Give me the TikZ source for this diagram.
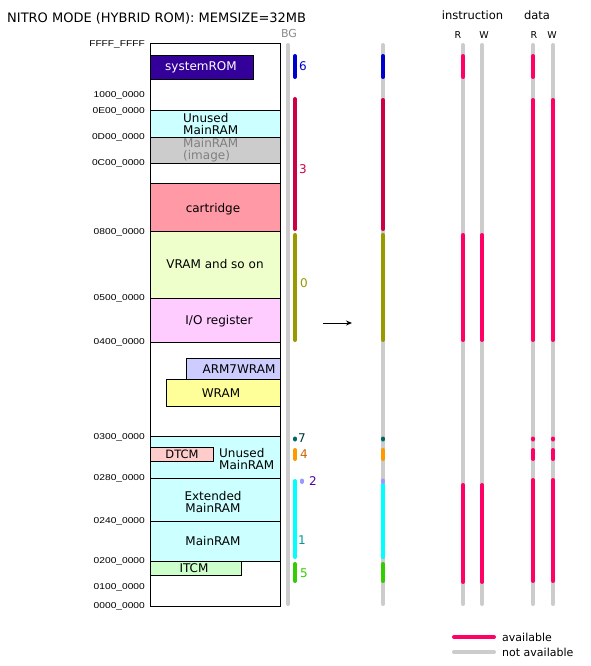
\documentclass[tikz,border=0pt]{standalone}
\usepackage{fontspec}
\setmainfont{DejaVu Sans}
\newfontfamily\addrfont[FakeStretch=1.2]{Liberation Sans}
\usetikzlibrary{arrows.meta}

\definecolor{romfill}{HTML}{330099}
\definecolor{unusedfill}{HTML}{CCFFFF}
\definecolor{imagefill}{HTML}{CCCCCC}
\definecolor{cartfill}{HTML}{FF99A6}
\definecolor{vramfill}{HTML}{EEFFCC}
\definecolor{iofill}{HTML}{FFCCFF}
\definecolor{armfill}{HTML}{CCCCFF}
\definecolor{wramfill}{HTML}{FFFF99}
\definecolor{dtcmfill}{HTML}{FFCCCC}
\definecolor{itcmfill}{HTML}{CCFFCC}
\definecolor{navail}{HTML}{CCCCCC}
\definecolor{avail}{HTML}{FF0066}
\definecolor{bgsix}{HTML}{0000CC}
\definecolor{bgthree}{HTML}{CC0044}
\definecolor{bgzero}{HTML}{999900}
\definecolor{bgseven}{HTML}{006666}
\definecolor{bgfour}{HTML}{FF9900}
\definecolor{bgtwo}{HTML}{9999FF}
\definecolor{bgone}{HTML}{00FFFF}
\definecolor{bgfive}{HTML}{33CC00}

\tikzset{
  area/.style={draw=black, line width=0.9pt, inner sep=0pt, outer sep=0pt, anchor=north west},
  lbl/.style={inner sep=0pt, font=\fontsize{12}{12.5}\selectfont, align=center},
  addr/.style={inner sep=0pt, anchor=east, font=\addrfont\fontsize{8.5}{9}\selectfont},
  head/.style={inner sep=0pt, font=\fontsize{11}{11}\selectfont},
  rw/.style={inner sep=0pt, font=\fontsize{9.5}{10}\selectfont},
  bar/.style={line width=4pt, line cap=round},
  num/.style={inner sep=0pt, font=\fontsize{12}{12}\selectfont},
}

\begin{document}
\begin{tikzpicture}[x=1pt,y=-1pt]
\useasboundingbox[fill=white] (0,0) rectangle (591,666);

% title
\node[inner sep=0pt, anchor=west, font=\fontsize{13}{13}\selectfont] (title) at (7,18) {NITRO MODE (HYBRID ROM): MEMSIZE=32MB};

% memory regions
\node[area, fill=romfill, minimum width=103pt, minimum height=24pt] (sysrom) at (150,55) {};
\node[area, fill=unusedfill, minimum width=130pt, minimum height=27pt] (unusedhi) at (150,110) {};
\node[area, fill=imagefill, minimum width=130pt, minimum height=26pt] (image) at (150,137) {};
\node[area, fill=cartfill, minimum width=130pt, minimum height=48pt] (cart) at (150,183) {};
\node[area, fill=vramfill, minimum width=130pt, minimum height=67pt] (vram) at (150,231) {};
\node[area, fill=iofill, minimum width=130pt, minimum height=44pt] (io) at (150,298) {};
\node[area, fill=armfill, minimum width=94pt, minimum height=21pt] (arm7) at (186,358) {};
\node[area, fill=wramfill, minimum width=114pt, minimum height=27pt] (wram) at (166,379) {};
\node[area, fill=unusedfill, minimum width=130pt, minimum height=42pt] (unusedlo) at (150,436) {};
\node[area, fill=dtcmfill, minimum width=63pt, minimum height=14pt] (dtcm) at (150,447) {};
\node[area, fill=unusedfill, minimum width=130pt, minimum height=43pt] (ext) at (150,478) {};
\node[area, fill=unusedfill, minimum width=130pt, minimum height=40pt] (main) at (150,521) {};
\node[area, fill=itcmfill, minimum width=91pt, minimum height=14pt] (itcm) at (150,561) {};
\node[area, minimum width=130pt, minimum height=563pt] (frame) at (150,43) {};

% region texts
\node[lbl, text=white] (tsysrom) at (201,67) {systemROM};
\node[lbl, anchor=west, align=left] (tunusedhi) at (183,124) {Unused\\MainRAM};
\node[lbl, anchor=west, align=left, text=black!50] (timage) at (183,150) {MainRAM\\(image)};
\node[lbl] (tcart) at (213,209) {cartridge};
\node[lbl] (tvram) at (215,264) {VRAM and so on};
\node[lbl] (tio) at (219,321) {I/O register};
\node[lbl] (tarm7) at (239,369) {ARM7WRAM};
\node[lbl] (twram) at (221,393) {WRAM};
\node[lbl, font=\fontsize{11.5}{11.5}\selectfont] (tdtcm) at (182,454) {DTCM};
\node[lbl, anchor=west, align=left] (tunusedlo) at (219,459) {Unused\\MainRAM};
\node[lbl] (text) at (213,502) {Extended\\MainRAM};
\node[lbl] (tmain) at (213,541) {MainRAM};
\node[lbl] (titcm) at (194,568) {ITCM};

% addresses
\node[addr] (aFFFF) at (145,44) {FFFF\_FFFF};
\node[addr] (a1000) at (145,95) {1000\_0000};
\node[addr] (a0E00) at (145,111) {0E00\_0000};
\node[addr] (a0D00) at (145,137) {0D00\_0000};
\node[addr] (a0C00) at (145,163) {0C00\_0000};
\node[addr] (a0800) at (145,232) {0800\_0000};
\node[addr] (a0500) at (145,298) {0500\_0000};
\node[addr] (a0400) at (145,342) {0400\_0000};
\node[addr] (a0300) at (145,437) {0300\_0000};
\node[addr] (a0280) at (145,478) {0280\_0000};
\node[addr] (a0240) at (145,521) {0240\_0000};
\node[addr] (a0200) at (145,561) {0200\_0000};
\node[addr] (a0100) at (145,587) {0100\_0000};
\node[addr] (a0000) at (145,606) {0000\_0000};

% BG column
\node[head, text=black!45] (tbg) at (289,33) {BG};
\draw[bar, navail] (288,45) -- (288,604);
\draw[bar, bgsix] (295,56) -- (295,77);
\draw[bar, bgthree] (295,99) -- (295,229);
\draw[bar, bgzero] (295,235) -- (295,340);
\draw[bar, bgseven] (295,438.5) -- (295,439.5);
\draw[bar, bgfour] (295,450) -- (295,459);
\draw[bar, bgtwo] (302,480.5) -- (302,482);
\draw[bar, bgone] (295,481) -- (295,557);
\draw[bar, bgfive] (295,564) -- (295,581);

\node[num, text=bgsix] (n6) at (303,66) {6};
\node[num, text=bgthree] (n3) at (303,169) {3};
\node[num, text=bgzero] (n0) at (304,283) {0};
\node[num, text=black!60!teal] (n7) at (302,438) {7};
\node[num, text=orange!80!black] (n4) at (304,454) {4};
\node[num, text=violet!70!blue] (n2) at (313,481) {2};
\node[num, text=teal!80!cyan] (n1) at (302,540) {1};
\node[num, text=bgfive] (n5) at (304,573) {5};

% arrow
\coordinate (arrowfrom) at (323,323);
\coordinate (arrowto) at (352,323);
\draw[line width=1pt, -{Stealth[length=6pt,width=5pt]}] (arrowfrom) -- (arrowto);

% merged column
\draw[bar, navail] (383,45) -- (383,604);
\draw[bar, bgsix] (383,56) -- (383,77);
\draw[bar, bgthree] (383,100) -- (383,229);
\draw[bar, bgzero] (383,235) -- (383,340);
\draw[bar, bgseven] (383,438.5) -- (383,439.5);
\draw[bar, bgfour] (383,450) -- (383,459);
\draw[bar, bgone] (383,485) -- (383,557);
\draw[bar, bgtwo] (383,480.5) -- (383,482);
\draw[bar, bgfive] (383,564) -- (383,581);

% access columns
\node[head, font=\fontsize{11.5}{11.5}\selectfont] (tinstr) at (472.5,15) {instruction};
\node[head, font=\fontsize{11.5}{11.5}\selectfont] (tdata) at (537,15) {data};
\node[rw] (tir) at (458,35) {R};
\node[rw] (tiw) at (484,35) {W};
\node[rw] (tdr) at (534,35) {R};
\node[rw] (tdw) at (552,35) {W};

\foreach \cx in {463,482,533,553}
  \draw[bar, navail] (\cx,45) -- (\cx,604);

% instruction read
\draw[bar, avail] (463,56) -- (463,77);
\draw[bar, avail] (463,235) -- (463,340);
\draw[bar, avail] (463,485) -- (463,582);
% instruction write
\draw[bar, avail] (482,235) -- (482,340);
\draw[bar, avail] (482,485) -- (482,582);
% data read
\draw[bar, avail] (533,56) -- (533,77);
\draw[bar, avail] (533,100) -- (533,340);
\draw[bar, avail] (533,438.5) -- (533,439.5);
\draw[bar, avail] (533,450) -- (533,459);
\draw[bar, avail] (533,480) -- (533,581);
% data write
\draw[bar, avail] (553,100) -- (553,340);
\draw[bar, avail] (553,438.5) -- (553,439.5);
\draw[bar, avail] (553,450) -- (553,459);
\draw[bar, avail] (553,480) -- (553,581);

% legend
\coordinate (legAa) at (454,637);
\coordinate (legAb) at (494,637);
\coordinate (legBa) at (454,652);
\coordinate (legBb) at (494,652);
\draw[bar, avail] (legAa) -- (legAb);
\draw[bar, navail] (legBa) -- (legBb);
\node[head, anchor=west] (tavail) at (502,637) {available};
\node[head, anchor=west] (tnavail) at (502,652) {not available};
\end{tikzpicture}
\end{document}
